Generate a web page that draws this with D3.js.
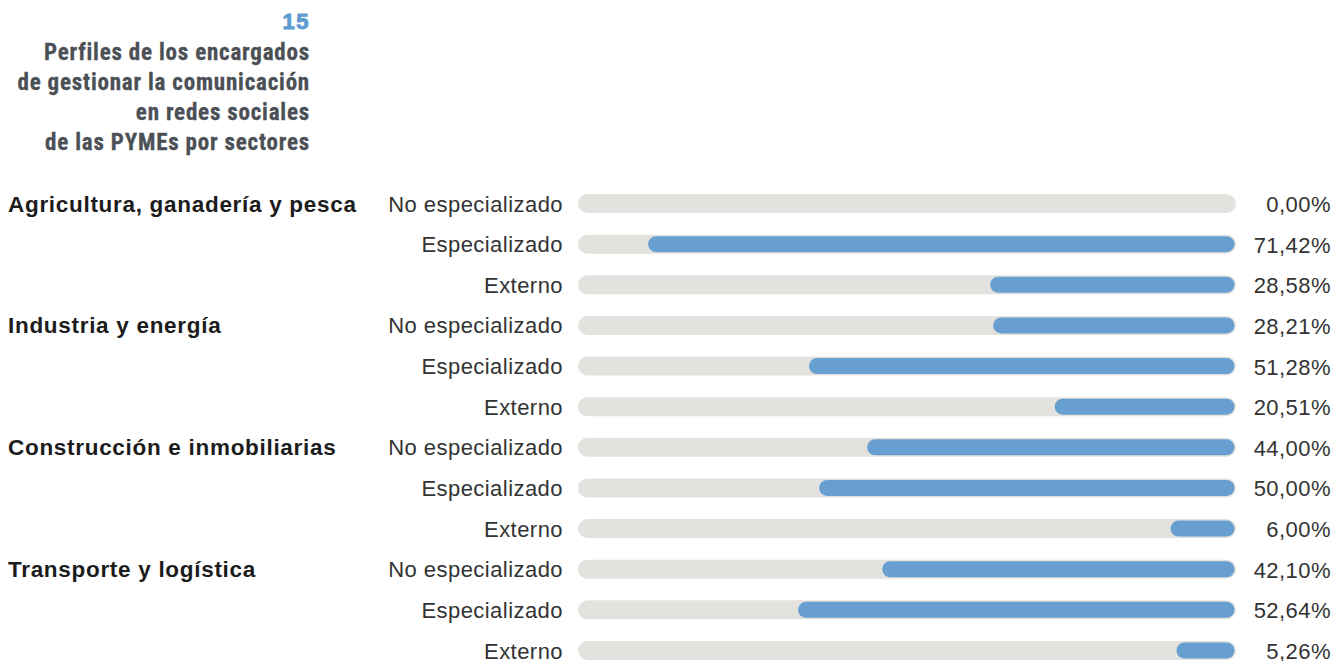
<!DOCTYPE html>
<html lang="es">
<head>
<meta charset="utf-8">
<script src="https://cdn.jsdelivr.net/npm/d3@7/dist/d3.min.js"></script>
<style>
  html, body { margin: 0; padding: 0; background: #ffffff; }
  svg { display: block; }
</style>
</head>
<body>
<svg id="chart" width="1344" height="661"></svg>
<script>
// Chart number and title lines
const chartNumber = "15";
const titleLines = [
  "Perfiles de los encargados",
  "de gestionar la comunicación",
  "en redes sociales",
  "de las PYMEs por sectores"
];

// Sectors, profile types and share (%) of each profile per sector
const sectors = [
  "Agricultura, ganadería y pesca",
  "Industria y energía",
  "Construcción e inmobiliarias",
  "Transporte y logística"
];
const profiles = ["No especializado", "Especializado", "Externo"];
const agricultura = [0.00, 71.42, 28.58];
const industria = [28.21, 51.28, 20.51];
const construccion = [44.00, 50.00, 6.00];
const transporte = [42.10, 52.64, 5.26];
const seriesBySector = [agricultura, industria, construccion, transporte];

// Track spans 0–80 %, bars grow leftwards from the right end
const scaleMax = 80;

const rows = [];
sectors.forEach((s, i) => {
  profiles.forEach((p, j) => {
    rows.push({ id: i + "-" + j, sector: s, profile: p, first: j === 0, value: seriesBySector[i][j] });
  });
});

const svg = d3.select("#chart");
const fmt = d3.formatLocale({ decimal: ",", thousands: ".", grouping: [3], currency: ["", "€"] }).format(".2f");

const SANS = "'Liberation Sans', Arial, sans-serif";

const y = d3.scalePoint().domain(rows.map(d => d.id)).range([203.5, 650.5]);
const x = d3.scaleLinear().domain([0, scaleMax]).range([1226.5, 587.5]);

// Title block
const title = svg.append("g").attr("text-anchor", "end");
title.append("text")
  .attr("x", 310).attr("y", 29)
  .attr("font-family", SANS)
  .attr("font-weight", "bold").attr("font-size", 22)
  .attr("letter-spacing", 1.5)
  .attr("fill", "#5f9bd0")
  .attr("stroke", "#5f9bd0").attr("stroke-width", 0.9)
  .text(chartNumber);
title.selectAll("text.line").data(titleLines).join("text")
  .attr("class", "line")
  .attr("x", 310).attr("y", (d, i) => 59.5 + i * 30)
  .attr("font-family", "'Roboto Condensed', 'Liberation Sans', sans-serif")
  .attr("font-weight", "bold").attr("font-size", 23)
  .attr("letter-spacing", 0.8)
  .attr("fill", "#4b5056")
  .attr("stroke", "#4b5056").attr("stroke-width", 0.3)
  .text(d => d);

const g = svg.append("g");
const row = g.selectAll("g.row").data(rows).join("g")
  .attr("class", "row")
  .attr("transform", d => `translate(0,${y(d.id)})`);

// Background track
row.append("line")
  .attr("x1", x(scaleMax)).attr("x2", x(0))
  .attr("stroke", "#e3e2de").attr("stroke-width", 19).attr("stroke-linecap", "round");

// Value bar
row.filter(d => d.value > 0).append("line")
  .attr("x1", d => x(d.value)).attr("x2", x(0))
  .attr("stroke", "#679fd0").attr("stroke-width", 16).attr("stroke-linecap", "round");

// Sector label on the first row of each group
row.filter(d => d.first).append("text")
  .attr("x", 8).attr("y", 8)
  .attr("font-family", SANS)
  .attr("font-weight", "bold").attr("font-size", 22.5)
  .attr("letter-spacing", 0.7)
  .attr("fill", "#1c1c1c")
  .text(d => d.sector);

// Profile label
row.append("text")
  .attr("x", 563).attr("y", 8)
  .attr("text-anchor", "end")
  .attr("font-family", SANS)
  .attr("font-size", 22)
  .attr("letter-spacing", 0.45)
  .attr("fill", "#333333")
  .text(d => d.profile);

// Value label
row.append("text")
  .attr("x", 1331).attr("y", 8.5)
  .attr("text-anchor", "end")
  .attr("font-family", SANS)
  .attr("font-size", 22)
  .attr("letter-spacing", 0.45)
  .attr("fill", "#333333")
  .text(d => fmt(d.value) + "%");
</script>
</body>
</html>
